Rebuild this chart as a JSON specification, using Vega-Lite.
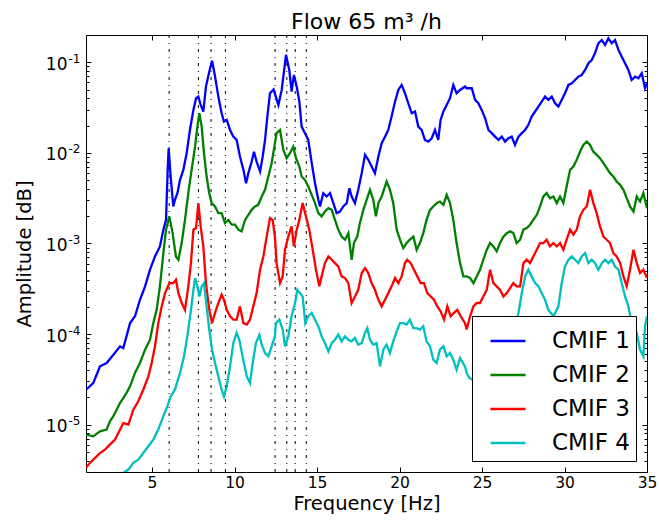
{
  "$schema": "https://vega.github.io/schema/vega-lite/v6.json",
  "width": 561,
  "height": 437,
  "autosize": {"type": "none"},
  "padding": {"left": 86, "top": 35, "right": 12, "bottom": 52},
  "background": "white",
  "title": {"text": "Flow 65 m³ /h", "fontSize": 22, "font": "DejaVu Sans", "fontWeight": "normal", "anchor": "middle", "baseline": "alphabetic", "offset": -16, "color": "black"},
  "config": {
    "view": {"stroke": "black", "strokeWidth": 1},
    "axis": {"domain": false, "grid": false, "tickColor": "black", "labelColor": "black", "titleColor": "black", "labelFont": "DejaVu Sans", "titleFont": "DejaVu Sans", "titleFontWeight": "normal", "labelOverlap": false, "labelBound": false, "labelFlush": false}
  },
  "datasets": {
    "cmif": [
{"f":1.00,"v":2.43e-5,"s":"CMIF 1"},{"f":1.44,"v":2.88e-5,"s":"CMIF 1"},{"f":1.85,"v":4.40e-5,"s":"CMIF 1"},{"f":2.25,"v":4.79e-5,"s":"CMIF 1"},{"f":2.66,"v":5.92e-5,"s":"CMIF 1"},{"f":3.06,"v":7.31e-5,"s":"CMIF 1"},{"f":3.26,"v":7.01e-5,"s":"CMIF 1"},{"f":3.67,"v":1.32e-4,"s":"CMIF 1"},{"f":3.97,"v":1.57e-4,"s":"CMIF 1"},{"f":4.27,"v":2.39e-4,"s":"CMIF 1"},{"f":4.58,"v":3.36e-4,"s":"CMIF 1"},{"f":4.88,"v":5.13e-4,"s":"CMIF 1"},{"f":5.18,"v":7.19e-4,"s":"CMIF 1"},{"f":5.48,"v":9.27e-4,"s":"CMIF 1"},{"f":5.69,"v":1.42e-3,"s":"CMIF 1"},{"f":5.85,"v":1.82e-3,"s":"CMIF 1"},{"f":5.95,"v":6.49e-3,"s":"CMIF 1"},{"f":6.01,"v":1.12e-2,"s":"CMIF 1"},{"f":6.13,"v":5.48e-3,"s":"CMIF 1"},{"f":6.29,"v":2.56e-3,"s":"CMIF 1"},{"f":6.39,"v":3.03e-3,"s":"CMIF 1"},{"f":6.54,"v":3.59e-3,"s":"CMIF 1"},{"f":6.70,"v":5.04e-3,"s":"CMIF 1"},{"f":6.90,"v":6.49e-3,"s":"CMIF 1"},{"f":7.10,"v":9.91e-3,"s":"CMIF 1"},{"f":7.30,"v":1.79e-2,"s":"CMIF 1"},{"f":7.51,"v":2.98e-2,"s":"CMIF 1"},{"f":7.67,"v":4.01e-2,"s":"CMIF 1"},{"f":7.81,"v":4.18e-2,"s":"CMIF 1"},{"f":7.95,"v":3.38e-2,"s":"CMIF 1"},{"f":8.11,"v":2.86e-2,"s":"CMIF 1"},{"f":8.27,"v":5.39e-2,"s":"CMIF 1"},{"f":8.45,"v":7.57e-2,"s":"CMIF 1"},{"f":8.64,"v":0.104,"s":"CMIF 1"},{"f":8.82,"v":6.95e-2,"s":"CMIF 1"},{"f":9.02,"v":4.18e-2,"s":"CMIF 1"},{"f":9.22,"v":2.74e-2,"s":"CMIF 1"},{"f":9.36,"v":2.22e-2,"s":"CMIF 1"},{"f":9.53,"v":2.31e-2,"s":"CMIF 1"},{"f":9.73,"v":1.79e-2,"s":"CMIF 1"},{"f":9.93,"v":1.51e-2,"s":"CMIF 1"},{"f":10.13,"v":1.39e-2,"s":"CMIF 1"},{"f":10.33,"v":9.12e-3,"s":"CMIF 1"},{"f":10.54,"v":6.49e-3,"s":"CMIF 1"},{"f":10.70,"v":4.62e-3,"s":"CMIF 1"},{"f":10.84,"v":5.97e-3,"s":"CMIF 1"},{"f":11.04,"v":8.02e-3,"s":"CMIF 1"},{"f":11.18,"v":1.03e-2,"s":"CMIF 1"},{"f":11.34,"v":8.02e-3,"s":"CMIF 1"},{"f":11.55,"v":6.22e-3,"s":"CMIF 1"},{"f":11.71,"v":9.12e-3,"s":"CMIF 1"},{"f":11.85,"v":1.39e-2,"s":"CMIF 1"},{"f":11.99,"v":2.52e-2,"s":"CMIF 1"},{"f":12.15,"v":4.55e-2,"s":"CMIF 1"},{"f":12.37,"v":5.0e-2,"s":"CMIF 1"},{"f":12.66,"v":3.38e-2,"s":"CMIF 1"},{"f":12.86,"v":4.95e-2,"s":"CMIF 1"},{"f":13.12,"v":0.121,"s":"CMIF 1"},{"f":13.32,"v":8.22e-2,"s":"CMIF 1"},{"f":13.46,"v":4.74e-2,"s":"CMIF 1"},{"f":13.60,"v":7.24e-2,"s":"CMIF 1"},{"f":13.77,"v":5.39e-2,"s":"CMIF 1"},{"f":13.93,"v":3.68e-2,"s":"CMIF 1"},{"f":14.07,"v":1.95e-2,"s":"CMIF 1"},{"f":14.27,"v":1.65e-2,"s":"CMIF 1"},{"f":14.47,"v":1.39e-2,"s":"CMIF 1"},{"f":14.68,"v":7.69e-3,"s":"CMIF 1"},{"f":14.88,"v":4.62e-3,"s":"CMIF 1"},{"f":15.08,"v":3.03e-3,"s":"CMIF 1"},{"f":15.18,"v":2.56e-3,"s":"CMIF 1"},{"f":15.38,"v":3.59e-3,"s":"CMIF 1"},{"f":15.58,"v":3.30e-3,"s":"CMIF 1"},{"f":15.79,"v":3.59e-3,"s":"CMIF 1"},{"f":15.99,"v":2.79e-3,"s":"CMIF 1"},{"f":16.19,"v":2.16e-3,"s":"CMIF 1"},{"f":16.39,"v":2.25e-3,"s":"CMIF 1"},{"f":16.59,"v":2.56e-3,"s":"CMIF 1"},{"f":16.80,"v":2.79e-3,"s":"CMIF 1"},{"f":16.96,"v":4.07e-3,"s":"CMIF 1"},{"f":17.10,"v":3.30e-3,"s":"CMIF 1"},{"f":17.30,"v":2.79e-3,"s":"CMIF 1"},{"f":17.50,"v":3.91e-3,"s":"CMIF 1"},{"f":17.71,"v":5.97e-3,"s":"CMIF 1"},{"f":17.91,"v":9.51e-3,"s":"CMIF 1"},{"f":18.11,"v":8.37e-3,"s":"CMIF 1"},{"f":18.31,"v":7.07e-3,"s":"CMIF 1"},{"f":18.51,"v":5.97e-3,"s":"CMIF 1"},{"f":18.72,"v":9.12e-3,"s":"CMIF 1"},{"f":18.92,"v":1.28e-2,"s":"CMIF 1"},{"f":19.12,"v":1.51e-2,"s":"CMIF 1"},{"f":19.32,"v":1.79e-2,"s":"CMIF 1"},{"f":19.52,"v":2.52e-2,"s":"CMIF 1"},{"f":19.73,"v":3.68e-2,"s":"CMIF 1"},{"f":19.93,"v":4.95e-2,"s":"CMIF 1"},{"f":20.13,"v":5.62e-2,"s":"CMIF 1"},{"f":20.33,"v":4.55e-2,"s":"CMIF 1"},{"f":20.53,"v":3.53e-2,"s":"CMIF 1"},{"f":20.74,"v":2.74e-2,"s":"CMIF 1"},{"f":20.94,"v":2.86e-2,"s":"CMIF 1"},{"f":21.14,"v":1.95e-2,"s":"CMIF 1"},{"f":21.34,"v":1.79e-2,"s":"CMIF 1"},{"f":21.54,"v":1.39e-2,"s":"CMIF 1"},{"f":21.75,"v":1.33e-2,"s":"CMIF 1"},{"f":21.95,"v":1.45e-2,"s":"CMIF 1"},{"f":22.15,"v":1.79e-2,"s":"CMIF 1"},{"f":22.35,"v":1.39e-2,"s":"CMIF 1"},{"f":22.49,"v":2.31e-2,"s":"CMIF 1"},{"f":22.66,"v":2.86e-2,"s":"CMIF 1"},{"f":22.86,"v":3.38e-2,"s":"CMIF 1"},{"f":23.06,"v":4.01e-2,"s":"CMIF 1"},{"f":23.26,"v":5.62e-2,"s":"CMIF 1"},{"f":23.46,"v":4.55e-2,"s":"CMIF 1"},{"f":23.67,"v":4.95e-2,"s":"CMIF 1"},{"f":23.97,"v":5.39e-2,"s":"CMIF 1"},{"f":24.07,"v":5.17e-2,"s":"CMIF 1"},{"f":24.38,"v":5.17e-2,"s":"CMIF 1"},{"f":24.58,"v":3.84e-2,"s":"CMIF 1"},{"f":24.78,"v":3.53e-2,"s":"CMIF 1"},{"f":24.98,"v":2.98e-2,"s":"CMIF 1"},{"f":25.19,"v":2.41e-2,"s":"CMIF 1"},{"f":25.39,"v":1.79e-2,"s":"CMIF 1"},{"f":25.59,"v":1.65e-2,"s":"CMIF 1"},{"f":25.79,"v":1.51e-2,"s":"CMIF 1"},{"f":26.00,"v":1.39e-2,"s":"CMIF 1"},{"f":26.20,"v":1.51e-2,"s":"CMIF 1"},{"f":26.40,"v":1.33e-2,"s":"CMIF 1"},{"f":26.60,"v":1.45e-2,"s":"CMIF 1"},{"f":26.80,"v":1.51e-2,"s":"CMIF 1"},{"f":27.00,"v":1.22e-2,"s":"CMIF 1"},{"f":27.21,"v":1.51e-2,"s":"CMIF 1"},{"f":27.41,"v":1.65e-2,"s":"CMIF 1"},{"f":27.61,"v":1.79e-2,"s":"CMIF 1"},{"f":27.81,"v":2.04e-2,"s":"CMIF 1"},{"f":28.01,"v":2.52e-2,"s":"CMIF 1"},{"f":28.22,"v":2.86e-2,"s":"CMIF 1"},{"f":28.42,"v":3.24e-2,"s":"CMIF 1"},{"f":28.62,"v":3.68e-2,"s":"CMIF 1"},{"f":28.82,"v":4.18e-2,"s":"CMIF 1"},{"f":29.02,"v":3.84e-2,"s":"CMIF 1"},{"f":29.23,"v":4.18e-2,"s":"CMIF 1"},{"f":29.43,"v":3.53e-2,"s":"CMIF 1"},{"f":29.63,"v":3.24e-2,"s":"CMIF 1"},{"f":29.83,"v":3.84e-2,"s":"CMIF 1"},{"f":30.03,"v":4.55e-2,"s":"CMIF 1"},{"f":30.24,"v":5.62e-2,"s":"CMIF 1"},{"f":30.44,"v":5.86e-2,"s":"CMIF 1"},{"f":30.64,"v":6.38e-2,"s":"CMIF 1"},{"f":30.84,"v":6.95e-2,"s":"CMIF 1"},{"f":31.04,"v":7.24e-2,"s":"CMIF 1"},{"f":31.25,"v":8.22e-2,"s":"CMIF 1"},{"f":31.45,"v":9.75e-2,"s":"CMIF 1"},{"f":31.65,"v":0.106,"s":"CMIF 1"},{"f":31.85,"v":0.126,"s":"CMIF 1"},{"f":32.05,"v":0.162,"s":"CMIF 1"},{"f":32.26,"v":0.176,"s":"CMIF 1"},{"f":32.46,"v":0.155,"s":"CMIF 1"},{"f":32.66,"v":0.184,"s":"CMIF 1"},{"f":32.86,"v":0.162,"s":"CMIF 1"},{"f":33.06,"v":0.176,"s":"CMIF 1"},{"f":33.27,"v":0.137,"s":"CMIF 1"},{"f":33.47,"v":0.115,"s":"CMIF 1"},{"f":33.67,"v":9.75e-2,"s":"CMIF 1"},{"f":33.87,"v":8.22e-2,"s":"CMIF 1"},{"f":34.07,"v":6.38e-2,"s":"CMIF 1"},{"f":34.28,"v":6.95e-2,"s":"CMIF 1"},{"f":34.48,"v":6.66e-2,"s":"CMIF 1"},{"f":34.68,"v":7.57e-2,"s":"CMIF 1"},{"f":34.88,"v":5.17e-2,"s":"CMIF 1"},{"f":35.00,"v":5.86e-2,"s":"CMIF 1"},
{"f":1.00,"v":7.76e-6,"s":"CMIF 2"},{"f":1.44,"v":7.43e-6,"s":"CMIF 2"},{"f":1.85,"v":8.44e-6,"s":"CMIF 2"},{"f":2.25,"v":8.81e-6,"s":"CMIF 2"},{"f":2.45,"v":1.09e-5,"s":"CMIF 2"},{"f":2.66,"v":1.24e-5,"s":"CMIF 2"},{"f":3.06,"v":1.73e-5,"s":"CMIF 2"},{"f":3.46,"v":2.24e-5,"s":"CMIF 2"},{"f":3.67,"v":2.65e-5,"s":"CMIF 2"},{"f":3.97,"v":3.72e-5,"s":"CMIF 2"},{"f":4.27,"v":4.79e-5,"s":"CMIF 2"},{"f":4.58,"v":6.72e-5,"s":"CMIF 2"},{"f":4.88,"v":8.65e-5,"s":"CMIF 2"},{"f":5.08,"v":1.32e-4,"s":"CMIF 2"},{"f":5.28,"v":1.85e-4,"s":"CMIF 2"},{"f":5.48,"v":3.36e-4,"s":"CMIF 2"},{"f":5.69,"v":7.82e-4,"s":"CMIF 2"},{"f":5.85,"v":1.42e-3,"s":"CMIF 2"},{"f":6.05,"v":1.99e-3,"s":"CMIF 2"},{"f":6.25,"v":1.30e-3,"s":"CMIF 2"},{"f":6.45,"v":7.19e-4,"s":"CMIF 2"},{"f":6.60,"v":6.61e-4,"s":"CMIF 2"},{"f":6.80,"v":1.01e-3,"s":"CMIF 2"},{"f":7.00,"v":1.82e-3,"s":"CMIF 2"},{"f":7.20,"v":3.59e-3,"s":"CMIF 2"},{"f":7.40,"v":6.49e-3,"s":"CMIF 2"},{"f":7.61,"v":1.17e-2,"s":"CMIF 2"},{"f":7.75,"v":1.95e-2,"s":"CMIF 2"},{"f":7.87,"v":2.74e-2,"s":"CMIF 2"},{"f":8.01,"v":1.95e-2,"s":"CMIF 2"},{"f":8.15,"v":9.91e-3,"s":"CMIF 2"},{"f":8.31,"v":5.48e-3,"s":"CMIF 2"},{"f":8.47,"v":3.59e-3,"s":"CMIF 2"},{"f":8.62,"v":2.79e-3,"s":"CMIF 2"},{"f":8.82,"v":2.56e-3,"s":"CMIF 2"},{"f":9.02,"v":2.16e-3,"s":"CMIF 2"},{"f":9.22,"v":2.16e-3,"s":"CMIF 2"},{"f":9.42,"v":1.68e-3,"s":"CMIF 2"},{"f":9.63,"v":1.82e-3,"s":"CMIF 2"},{"f":9.83,"v":1.61e-3,"s":"CMIF 2"},{"f":10.03,"v":1.61e-3,"s":"CMIF 2"},{"f":10.23,"v":1.42e-3,"s":"CMIF 2"},{"f":10.43,"v":1.36e-3,"s":"CMIF 2"},{"f":10.64,"v":1.82e-3,"s":"CMIF 2"},{"f":10.84,"v":2.07e-3,"s":"CMIF 2"},{"f":11.04,"v":2.35e-3,"s":"CMIF 2"},{"f":11.24,"v":2.56e-3,"s":"CMIF 2"},{"f":11.44,"v":2.67e-3,"s":"CMIF 2"},{"f":11.65,"v":3.30e-3,"s":"CMIF 2"},{"f":11.85,"v":3.91e-3,"s":"CMIF 2"},{"f":12.05,"v":5.48e-3,"s":"CMIF 2"},{"f":12.25,"v":7.69e-3,"s":"CMIF 2"},{"f":12.45,"v":1.28e-2,"s":"CMIF 2"},{"f":12.55,"v":1.65e-2,"s":"CMIF 2"},{"f":12.76,"v":1.79e-2,"s":"CMIF 2"},{"f":12.96,"v":1.08e-2,"s":"CMIF 2"},{"f":13.16,"v":8.73e-3,"s":"CMIF 2"},{"f":13.36,"v":9.91e-3,"s":"CMIF 2"},{"f":13.56,"v":1.17e-2,"s":"CMIF 2"},{"f":13.73,"v":8.73e-3,"s":"CMIF 2"},{"f":13.93,"v":7.07e-3,"s":"CMIF 2"},{"f":14.07,"v":5.48e-3,"s":"CMIF 2"},{"f":14.27,"v":5.04e-3,"s":"CMIF 2"},{"f":14.47,"v":4.25e-3,"s":"CMIF 2"},{"f":14.68,"v":3.44e-3,"s":"CMIF 2"},{"f":14.88,"v":2.79e-3,"s":"CMIF 2"},{"f":15.08,"v":2.16e-3,"s":"CMIF 2"},{"f":15.28,"v":1.99e-3,"s":"CMIF 2"},{"f":15.48,"v":2.25e-3,"s":"CMIF 2"},{"f":15.69,"v":2.45e-3,"s":"CMIF 2"},{"f":15.89,"v":2.35e-3,"s":"CMIF 2"},{"f":16.09,"v":1.82e-3,"s":"CMIF 2"},{"f":16.29,"v":1.42e-3,"s":"CMIF 2"},{"f":16.49,"v":1.19e-3,"s":"CMIF 2"},{"f":16.70,"v":1.10e-3,"s":"CMIF 2"},{"f":16.90,"v":1.30e-3,"s":"CMIF 2"},{"f":17.10,"v":6.61e-4,"s":"CMIF 2"},{"f":17.24,"v":1.01e-3,"s":"CMIF 2"},{"f":17.44,"v":1.19e-3,"s":"CMIF 2"},{"f":17.60,"v":1.68e-3,"s":"CMIF 2"},{"f":17.81,"v":2.35e-3,"s":"CMIF 2"},{"f":18.01,"v":3.03e-3,"s":"CMIF 2"},{"f":18.21,"v":3.91e-3,"s":"CMIF 2"},{"f":18.41,"v":3.03e-3,"s":"CMIF 2"},{"f":18.57,"v":1.99e-3,"s":"CMIF 2"},{"f":18.72,"v":2.79e-3,"s":"CMIF 2"},{"f":18.92,"v":3.30e-3,"s":"CMIF 2"},{"f":19.12,"v":4.25e-3,"s":"CMIF 2"},{"f":19.22,"v":4.83e-3,"s":"CMIF 2"},{"f":19.42,"v":3.91e-3,"s":"CMIF 2"},{"f":19.62,"v":2.79e-3,"s":"CMIF 2"},{"f":19.83,"v":1.42e-3,"s":"CMIF 2"},{"f":20.03,"v":1.10e-3,"s":"CMIF 2"},{"f":20.23,"v":8.89e-4,"s":"CMIF 2"},{"f":20.43,"v":1.01e-3,"s":"CMIF 2"},{"f":20.63,"v":1.10e-3,"s":"CMIF 2"},{"f":20.84,"v":1.19e-3,"s":"CMIF 2"},{"f":21.04,"v":8.51e-4,"s":"CMIF 2"},{"f":21.24,"v":1.01e-3,"s":"CMIF 2"},{"f":21.44,"v":1.30e-3,"s":"CMIF 2"},{"f":21.64,"v":1.82e-3,"s":"CMIF 2"},{"f":21.85,"v":2.35e-3,"s":"CMIF 2"},{"f":22.05,"v":2.56e-3,"s":"CMIF 2"},{"f":22.25,"v":2.79e-3,"s":"CMIF 2"},{"f":22.45,"v":2.90e-3,"s":"CMIF 2"},{"f":22.66,"v":2.67e-3,"s":"CMIF 2"},{"f":22.86,"v":3.44e-3,"s":"CMIF 2"},{"f":23.06,"v":2.79e-3,"s":"CMIF 2"},{"f":23.26,"v":1.82e-3,"s":"CMIF 2"},{"f":23.46,"v":1.01e-3,"s":"CMIF 2"},{"f":23.67,"v":6.07e-4,"s":"CMIF 2"},{"f":23.87,"v":4.33e-4,"s":"CMIF 2"},{"f":24.07,"v":4.33e-4,"s":"CMIF 2"},{"f":24.28,"v":4.15e-4,"s":"CMIF 2"},{"f":24.48,"v":3.65e-4,"s":"CMIF 2"},{"f":24.68,"v":4.33e-4,"s":"CMIF 2"},{"f":24.88,"v":5.13e-4,"s":"CMIF 2"},{"f":25.08,"v":6.61e-4,"s":"CMIF 2"},{"f":25.29,"v":8.51e-4,"s":"CMIF 2"},{"f":25.49,"v":1.01e-3,"s":"CMIF 2"},{"f":25.69,"v":9.27e-4,"s":"CMIF 2"},{"f":25.89,"v":8.17e-4,"s":"CMIF 2"},{"f":26.09,"v":1.01e-3,"s":"CMIF 2"},{"f":26.30,"v":1.19e-3,"s":"CMIF 2"},{"f":26.50,"v":1.30e-3,"s":"CMIF 2"},{"f":26.70,"v":1.36e-3,"s":"CMIF 2"},{"f":26.90,"v":1.30e-3,"s":"CMIF 2"},{"f":27.10,"v":1.01e-3,"s":"CMIF 2"},{"f":27.31,"v":1.10e-3,"s":"CMIF 2"},{"f":27.51,"v":1.42e-3,"s":"CMIF 2"},{"f":27.71,"v":1.48e-3,"s":"CMIF 2"},{"f":27.91,"v":1.61e-3,"s":"CMIF 2"},{"f":28.11,"v":1.82e-3,"s":"CMIF 2"},{"f":28.32,"v":2.07e-3,"s":"CMIF 2"},{"f":28.52,"v":2.56e-3,"s":"CMIF 2"},{"f":28.72,"v":3.30e-3,"s":"CMIF 2"},{"f":28.92,"v":3.59e-3,"s":"CMIF 2"},{"f":29.12,"v":3.16e-3,"s":"CMIF 2"},{"f":29.33,"v":3.30e-3,"s":"CMIF 2"},{"f":29.53,"v":2.79e-3,"s":"CMIF 2"},{"f":29.73,"v":3.30e-3,"s":"CMIF 2"},{"f":29.93,"v":2.79e-3,"s":"CMIF 2"},{"f":30.13,"v":4.25e-3,"s":"CMIF 2"},{"f":30.34,"v":6.49e-3,"s":"CMIF 2"},{"f":30.54,"v":7.07e-3,"s":"CMIF 2"},{"f":30.74,"v":8.37e-3,"s":"CMIF 2"},{"f":30.94,"v":1.03e-2,"s":"CMIF 2"},{"f":31.14,"v":1.22e-2,"s":"CMIF 2"},{"f":31.35,"v":1.33e-2,"s":"CMIF 2"},{"f":31.55,"v":1.22e-2,"s":"CMIF 2"},{"f":31.75,"v":1.03e-2,"s":"CMIF 2"},{"f":31.95,"v":9.51e-3,"s":"CMIF 2"},{"f":32.15,"v":8.73e-3,"s":"CMIF 2"},{"f":32.36,"v":7.69e-3,"s":"CMIF 2"},{"f":32.56,"v":6.78e-3,"s":"CMIF 2"},{"f":32.76,"v":5.97e-3,"s":"CMIF 2"},{"f":32.96,"v":5.48e-3,"s":"CMIF 2"},{"f":33.16,"v":4.83e-3,"s":"CMIF 2"},{"f":33.37,"v":4.44e-3,"s":"CMIF 2"},{"f":33.57,"v":3.91e-3,"s":"CMIF 2"},{"f":33.77,"v":3.16e-3,"s":"CMIF 2"},{"f":33.97,"v":2.56e-3,"s":"CMIF 2"},{"f":34.18,"v":2.25e-3,"s":"CMIF 2"},{"f":34.38,"v":3.30e-3,"s":"CMIF 2"},{"f":34.58,"v":2.90e-3,"s":"CMIF 2"},{"f":34.78,"v":3.59e-3,"s":"CMIF 2"},{"f":35.00,"v":2.45e-3,"s":"CMIF 2"},
{"f":1.00,"v":3.33e-6,"s":"CMIF 3"},{"f":1.24,"v":3.78e-6,"s":"CMIF 3"},{"f":1.55,"v":4.29e-6,"s":"CMIF 3"},{"f":1.85,"v":4.86e-6,"s":"CMIF 3"},{"f":2.15,"v":5.30e-6,"s":"CMIF 3"},{"f":2.45,"v":6.01e-6,"s":"CMIF 3"},{"f":2.76,"v":6.84e-6,"s":"CMIF 3"},{"f":2.96,"v":8.09e-6,"s":"CMIF 3"},{"f":3.26,"v":1.04e-5,"s":"CMIF 3"},{"f":3.57,"v":1.00e-5,"s":"CMIF 3"},{"f":3.87,"v":1.46e-5,"s":"CMIF 3"},{"f":4.17,"v":1.81e-5,"s":"CMIF 3"},{"f":4.47,"v":2.43e-5,"s":"CMIF 3"},{"f":4.78,"v":3.41e-5,"s":"CMIF 3"},{"f":4.98,"v":4.79e-5,"s":"CMIF 3"},{"f":5.18,"v":7.31e-5,"s":"CMIF 3"},{"f":5.38,"v":1.32e-4,"s":"CMIF 3"},{"f":5.59,"v":2.02e-4,"s":"CMIF 3"},{"f":5.79,"v":2.83e-4,"s":"CMIF 3"},{"f":6.05,"v":3.65e-4,"s":"CMIF 3"},{"f":6.29,"v":3.65e-4,"s":"CMIF 3"},{"f":6.45,"v":3.97e-4,"s":"CMIF 3"},{"f":6.60,"v":2.83e-4,"s":"CMIF 3"},{"f":6.80,"v":2.20e-4,"s":"CMIF 3"},{"f":7.00,"v":1.85e-4,"s":"CMIF 3"},{"f":7.20,"v":3.36e-4,"s":"CMIF 3"},{"f":7.36,"v":6.07e-4,"s":"CMIF 3"},{"f":7.51,"v":1.42e-3,"s":"CMIF 3"},{"f":7.67,"v":1.48e-3,"s":"CMIF 3"},{"f":7.81,"v":2.79e-3,"s":"CMIF 3"},{"f":7.95,"v":1.54e-3,"s":"CMIF 3"},{"f":8.11,"v":9.27e-4,"s":"CMIF 3"},{"f":8.27,"v":3.65e-4,"s":"CMIF 3"},{"f":8.47,"v":1.85e-4,"s":"CMIF 3"},{"f":8.64,"v":1.32e-4,"s":"CMIF 3"},{"f":8.82,"v":1.71e-4,"s":"CMIF 3"},{"f":9.02,"v":2.20e-4,"s":"CMIF 3"},{"f":9.22,"v":2.72e-4,"s":"CMIF 3"},{"f":9.36,"v":2.39e-4,"s":"CMIF 3"},{"f":9.53,"v":1.85e-4,"s":"CMIF 3"},{"f":9.73,"v":1.57e-4,"s":"CMIF 3"},{"f":9.93,"v":1.44e-4,"s":"CMIF 3"},{"f":10.13,"v":1.44e-4,"s":"CMIF 3"},{"f":10.33,"v":2.02e-4,"s":"CMIF 3"},{"f":10.54,"v":1.32e-4,"s":"CMIF 3"},{"f":10.74,"v":1.27e-4,"s":"CMIF 3"},{"f":10.94,"v":1.44e-4,"s":"CMIF 3"},{"f":11.14,"v":2.02e-4,"s":"CMIF 3"},{"f":11.34,"v":2.83e-4,"s":"CMIF 3"},{"f":11.55,"v":5.13e-4,"s":"CMIF 3"},{"f":11.75,"v":7.19e-4,"s":"CMIF 3"},{"f":11.95,"v":1.19e-3,"s":"CMIF 3"},{"f":12.15,"v":1.90e-3,"s":"CMIF 3"},{"f":12.31,"v":1.82e-3,"s":"CMIF 3"},{"f":12.45,"v":1.19e-3,"s":"CMIF 3"},{"f":12.55,"v":6.07e-4,"s":"CMIF 3"},{"f":12.76,"v":3.65e-4,"s":"CMIF 3"},{"f":12.92,"v":4.33e-4,"s":"CMIF 3"},{"f":13.06,"v":8.51e-4,"s":"CMIF 3"},{"f":13.26,"v":1.19e-3,"s":"CMIF 3"},{"f":13.46,"v":1.54e-3,"s":"CMIF 3"},{"f":13.60,"v":9.27e-4,"s":"CMIF 3"},{"f":13.77,"v":1.42e-3,"s":"CMIF 3"},{"f":13.93,"v":1.82e-3,"s":"CMIF 3"},{"f":14.13,"v":2.79e-3,"s":"CMIF 3"},{"f":14.33,"v":1.99e-3,"s":"CMIF 3"},{"f":14.53,"v":1.42e-3,"s":"CMIF 3"},{"f":14.74,"v":8.51e-4,"s":"CMIF 3"},{"f":14.94,"v":5.13e-4,"s":"CMIF 3"},{"f":15.14,"v":3.36e-4,"s":"CMIF 3"},{"f":15.28,"v":4.33e-4,"s":"CMIF 3"},{"f":15.48,"v":6.07e-4,"s":"CMIF 3"},{"f":15.69,"v":7.19e-4,"s":"CMIF 3"},{"f":15.89,"v":6.61e-4,"s":"CMIF 3"},{"f":16.09,"v":6.07e-4,"s":"CMIF 3"},{"f":16.29,"v":5.57e-4,"s":"CMIF 3"},{"f":16.49,"v":4.33e-4,"s":"CMIF 3"},{"f":16.70,"v":4.15e-4,"s":"CMIF 3"},{"f":16.90,"v":3.65e-4,"s":"CMIF 3"},{"f":17.10,"v":2.20e-4,"s":"CMIF 3"},{"f":17.30,"v":2.60e-4,"s":"CMIF 3"},{"f":17.50,"v":3.08e-4,"s":"CMIF 3"},{"f":17.71,"v":4.71e-4,"s":"CMIF 3"},{"f":17.91,"v":5.35e-4,"s":"CMIF 3"},{"f":18.11,"v":4.71e-4,"s":"CMIF 3"},{"f":18.31,"v":3.65e-4,"s":"CMIF 3"},{"f":18.51,"v":3.08e-4,"s":"CMIF 3"},{"f":18.72,"v":2.39e-4,"s":"CMIF 3"},{"f":18.92,"v":2.02e-4,"s":"CMIF 3"},{"f":19.12,"v":2.39e-4,"s":"CMIF 3"},{"f":19.32,"v":2.83e-4,"s":"CMIF 3"},{"f":19.52,"v":3.36e-4,"s":"CMIF 3"},{"f":19.73,"v":4.15e-4,"s":"CMIF 3"},{"f":19.93,"v":3.65e-4,"s":"CMIF 3"},{"f":20.13,"v":4.33e-4,"s":"CMIF 3"},{"f":20.33,"v":6.07e-4,"s":"CMIF 3"},{"f":20.47,"v":6.61e-4,"s":"CMIF 3"},{"f":20.68,"v":6.07e-4,"s":"CMIF 3"},{"f":20.88,"v":5.13e-4,"s":"CMIF 3"},{"f":21.08,"v":4.33e-4,"s":"CMIF 3"},{"f":21.28,"v":3.65e-4,"s":"CMIF 3"},{"f":21.48,"v":3.65e-4,"s":"CMIF 3"},{"f":21.69,"v":2.83e-4,"s":"CMIF 3"},{"f":21.89,"v":2.60e-4,"s":"CMIF 3"},{"f":22.09,"v":2.39e-4,"s":"CMIF 3"},{"f":22.29,"v":2.02e-4,"s":"CMIF 3"},{"f":22.49,"v":1.78e-4,"s":"CMIF 3"},{"f":22.70,"v":1.44e-4,"s":"CMIF 3"},{"f":22.90,"v":2.02e-4,"s":"CMIF 3"},{"f":23.10,"v":1.57e-4,"s":"CMIF 3"},{"f":23.30,"v":1.71e-4,"s":"CMIF 3"},{"f":23.50,"v":1.85e-4,"s":"CMIF 3"},{"f":23.71,"v":1.57e-4,"s":"CMIF 3"},{"f":23.97,"v":1.32e-4,"s":"CMIF 3"},{"f":24.07,"v":1.12e-4,"s":"CMIF 3"},{"f":24.28,"v":1.57e-4,"s":"CMIF 3"},{"f":24.48,"v":2.02e-4,"s":"CMIF 3"},{"f":24.68,"v":2.20e-4,"s":"CMIF 3"},{"f":24.88,"v":2.20e-4,"s":"CMIF 3"},{"f":25.08,"v":2.60e-4,"s":"CMIF 3"},{"f":25.29,"v":3.08e-4,"s":"CMIF 3"},{"f":25.49,"v":5.13e-4,"s":"CMIF 3"},{"f":25.69,"v":3.65e-4,"s":"CMIF 3"},{"f":25.89,"v":3.36e-4,"s":"CMIF 3"},{"f":26.09,"v":3.08e-4,"s":"CMIF 3"},{"f":26.30,"v":2.60e-4,"s":"CMIF 3"},{"f":26.50,"v":2.83e-4,"s":"CMIF 3"},{"f":26.70,"v":3.22e-4,"s":"CMIF 3"},{"f":26.90,"v":3.65e-4,"s":"CMIF 3"},{"f":27.10,"v":3.36e-4,"s":"CMIF 3"},{"f":27.31,"v":3.36e-4,"s":"CMIF 3"},{"f":27.51,"v":6.07e-4,"s":"CMIF 3"},{"f":27.71,"v":6.61e-4,"s":"CMIF 3"},{"f":27.91,"v":6.07e-4,"s":"CMIF 3"},{"f":28.11,"v":7.19e-4,"s":"CMIF 3"},{"f":28.32,"v":8.51e-4,"s":"CMIF 3"},{"f":28.52,"v":1.01e-3,"s":"CMIF 3"},{"f":28.72,"v":1.01e-3,"s":"CMIF 3"},{"f":28.92,"v":1.10e-3,"s":"CMIF 3"},{"f":29.12,"v":9.27e-4,"s":"CMIF 3"},{"f":29.33,"v":1.01e-3,"s":"CMIF 3"},{"f":29.53,"v":9.27e-4,"s":"CMIF 3"},{"f":29.73,"v":1.01e-3,"s":"CMIF 3"},{"f":29.93,"v":8.51e-4,"s":"CMIF 3"},{"f":30.13,"v":1.10e-3,"s":"CMIF 3"},{"f":30.34,"v":1.42e-3,"s":"CMIF 3"},{"f":30.54,"v":1.25e-3,"s":"CMIF 3"},{"f":30.74,"v":1.42e-3,"s":"CMIF 3"},{"f":30.94,"v":1.99e-3,"s":"CMIF 3"},{"f":31.14,"v":2.35e-3,"s":"CMIF 3"},{"f":31.35,"v":2.56e-3,"s":"CMIF 3"},{"f":31.55,"v":3.91e-3,"s":"CMIF 3"},{"f":31.75,"v":2.79e-3,"s":"CMIF 3"},{"f":31.95,"v":2.16e-3,"s":"CMIF 3"},{"f":32.15,"v":1.54e-3,"s":"CMIF 3"},{"f":32.36,"v":1.19e-3,"s":"CMIF 3"},{"f":32.56,"v":1.10e-3,"s":"CMIF 3"},{"f":32.76,"v":1.01e-3,"s":"CMIF 3"},{"f":32.96,"v":7.82e-4,"s":"CMIF 3"},{"f":33.16,"v":7.19e-4,"s":"CMIF 3"},{"f":33.37,"v":6.07e-4,"s":"CMIF 3"},{"f":33.57,"v":4.33e-4,"s":"CMIF 3"},{"f":33.77,"v":3.36e-4,"s":"CMIF 3"},{"f":33.97,"v":5.13e-4,"s":"CMIF 3"},{"f":34.18,"v":8.51e-4,"s":"CMIF 3"},{"f":34.38,"v":6.07e-4,"s":"CMIF 3"},{"f":34.58,"v":4.71e-4,"s":"CMIF 3"},{"f":34.78,"v":5.13e-4,"s":"CMIF 3"},{"f":35.00,"v":4.15e-4,"s":"CMIF 3"},
{"f":3.06,"v":2.28e-6,"s":"CMIF 4"},{"f":3.26,"v":2.93e-6,"s":"CMIF 4"},{"f":3.57,"v":3.19e-6,"s":"CMIF 4"},{"f":3.87,"v":3.78e-6,"s":"CMIF 4"},{"f":4.17,"v":4.11e-6,"s":"CMIF 4"},{"f":4.47,"v":4.86e-6,"s":"CMIF 4"},{"f":4.78,"v":5.77e-6,"s":"CMIF 4"},{"f":5.08,"v":6.84e-6,"s":"CMIF 4"},{"f":5.38,"v":8.81e-6,"s":"CMIF 4"},{"f":5.69,"v":1.24e-5,"s":"CMIF 4"},{"f":5.93,"v":1.59e-5,"s":"CMIF 4"},{"f":6.13,"v":2.05e-5,"s":"CMIF 4"},{"f":6.39,"v":2.43e-5,"s":"CMIF 4"},{"f":6.70,"v":3.72e-5,"s":"CMIF 4"},{"f":6.94,"v":5.67e-5,"s":"CMIF 4"},{"f":7.14,"v":9.42e-5,"s":"CMIF 4"},{"f":7.34,"v":1.71e-4,"s":"CMIF 4"},{"f":7.51,"v":3.08e-4,"s":"CMIF 4"},{"f":7.61,"v":4.15e-4,"s":"CMIF 4"},{"f":7.75,"v":3.36e-4,"s":"CMIF 4"},{"f":7.87,"v":2.60e-4,"s":"CMIF 4"},{"f":8.01,"v":3.36e-4,"s":"CMIF 4"},{"f":8.15,"v":3.65e-4,"s":"CMIF 4"},{"f":8.31,"v":2.02e-4,"s":"CMIF 4"},{"f":8.47,"v":1.12e-4,"s":"CMIF 4"},{"f":8.64,"v":6.72e-5,"s":"CMIF 4"},{"f":8.82,"v":4.79e-5,"s":"CMIF 4"},{"f":9.02,"v":3.41e-5,"s":"CMIF 4"},{"f":9.22,"v":2.43e-5,"s":"CMIF 4"},{"f":9.36,"v":2.05e-5,"s":"CMIF 4"},{"f":9.53,"v":2.65e-5,"s":"CMIF 4"},{"f":9.73,"v":4.40e-5,"s":"CMIF 4"},{"f":9.93,"v":7.96e-5,"s":"CMIF 4"},{"f":10.13,"v":1.03e-4,"s":"CMIF 4"},{"f":10.29,"v":8.65e-5,"s":"CMIF 4"},{"f":10.49,"v":5.67e-5,"s":"CMIF 4"},{"f":10.74,"v":3.41e-5,"s":"CMIF 4"},{"f":10.94,"v":2.88e-5,"s":"CMIF 4"},{"f":11.10,"v":4.79e-5,"s":"CMIF 4"},{"f":11.30,"v":7.96e-5,"s":"CMIF 4"},{"f":11.51,"v":9.84e-5,"s":"CMIF 4"},{"f":11.65,"v":7.63e-5,"s":"CMIF 4"},{"f":11.85,"v":6.17e-5,"s":"CMIF 4"},{"f":12.05,"v":5.67e-5,"s":"CMIF 4"},{"f":12.25,"v":7.31e-5,"s":"CMIF 4"},{"f":12.45,"v":9.42e-5,"s":"CMIF 4"},{"f":12.51,"v":1.32e-4,"s":"CMIF 4"},{"f":12.72,"v":1.44e-4,"s":"CMIF 4"},{"f":12.92,"v":1.12e-4,"s":"CMIF 4"},{"f":13.06,"v":7.31e-5,"s":"CMIF 4"},{"f":13.26,"v":9.42e-5,"s":"CMIF 4"},{"f":13.46,"v":1.57e-4,"s":"CMIF 4"},{"f":13.67,"v":2.20e-4,"s":"CMIF 4"},{"f":13.81,"v":3.08e-4,"s":"CMIF 4"},{"f":13.97,"v":2.83e-4,"s":"CMIF 4"},{"f":14.13,"v":2.60e-4,"s":"CMIF 4"},{"f":14.29,"v":1.32e-4,"s":"CMIF 4"},{"f":14.47,"v":1.57e-4,"s":"CMIF 4"},{"f":14.68,"v":1.71e-4,"s":"CMIF 4"},{"f":14.88,"v":1.44e-4,"s":"CMIF 4"},{"f":15.08,"v":1.22e-4,"s":"CMIF 4"},{"f":15.28,"v":9.42e-5,"s":"CMIF 4"},{"f":15.48,"v":7.96e-5,"s":"CMIF 4"},{"f":15.69,"v":6.44e-5,"s":"CMIF 4"},{"f":15.89,"v":7.96e-5,"s":"CMIF 4"},{"f":16.09,"v":8.65e-5,"s":"CMIF 4"},{"f":16.29,"v":9.84e-5,"s":"CMIF 4"},{"f":16.49,"v":8.30e-5,"s":"CMIF 4"},{"f":16.70,"v":9.42e-5,"s":"CMIF 4"},{"f":16.90,"v":8.65e-5,"s":"CMIF 4"},{"f":17.10,"v":8.30e-5,"s":"CMIF 4"},{"f":17.30,"v":9.03e-5,"s":"CMIF 4"},{"f":17.50,"v":7.63e-5,"s":"CMIF 4"},{"f":17.71,"v":7.96e-5,"s":"CMIF 4"},{"f":17.91,"v":1.03e-4,"s":"CMIF 4"},{"f":18.05,"v":1.16e-4,"s":"CMIF 4"},{"f":18.21,"v":8.65e-5,"s":"CMIF 4"},{"f":18.41,"v":7.63e-5,"s":"CMIF 4"},{"f":18.61,"v":7.96e-5,"s":"CMIF 4"},{"f":18.82,"v":4.40e-5,"s":"CMIF 4"},{"f":19.02,"v":6.72e-5,"s":"CMIF 4"},{"f":19.22,"v":7.63e-5,"s":"CMIF 4"},{"f":19.42,"v":6.17e-5,"s":"CMIF 4"},{"f":19.62,"v":8.30e-5,"s":"CMIF 4"},{"f":19.83,"v":1.07e-4,"s":"CMIF 4"},{"f":20.03,"v":1.32e-4,"s":"CMIF 4"},{"f":20.23,"v":1.32e-4,"s":"CMIF 4"},{"f":20.43,"v":1.27e-4,"s":"CMIF 4"},{"f":20.63,"v":1.44e-4,"s":"CMIF 4"},{"f":20.84,"v":1.16e-4,"s":"CMIF 4"},{"f":21.04,"v":1.16e-4,"s":"CMIF 4"},{"f":21.24,"v":1.12e-4,"s":"CMIF 4"},{"f":21.44,"v":1.22e-4,"s":"CMIF 4"},{"f":21.64,"v":8.30e-5,"s":"CMIF 4"},{"f":21.85,"v":7.31e-5,"s":"CMIF 4"},{"f":22.05,"v":5.21e-5,"s":"CMIF 4"},{"f":22.25,"v":4.79e-5,"s":"CMIF 4"},{"f":22.45,"v":6.72e-5,"s":"CMIF 4"},{"f":22.66,"v":7.31e-5,"s":"CMIF 4"},{"f":22.86,"v":5.67e-5,"s":"CMIF 4"},{"f":23.06,"v":6.17e-5,"s":"CMIF 4"},{"f":23.26,"v":5.21e-5,"s":"CMIF 4"},{"f":23.46,"v":4.04e-5,"s":"CMIF 4"},{"f":23.67,"v":5.43e-5,"s":"CMIF 4"},{"f":23.97,"v":4.40e-5,"s":"CMIF 4"},{"f":24.07,"v":3.72e-5,"s":"CMIF 4"},{"f":24.24,"v":3.27e-5,"s":"CMIF 4"},{"f":24.88,"v":2.88e-5,"s":"CMIF 4"},{"f":25.69,"v":3.41e-5,"s":"CMIF 4"},{"f":26.50,"v":5.21e-5,"s":"CMIF 4"},{"f":27.00,"v":1.12e-4,"s":"CMIF 4"},{"f":27.21,"v":1.71e-4,"s":"CMIF 4"},{"f":27.41,"v":2.83e-4,"s":"CMIF 4"},{"f":27.61,"v":4.33e-4,"s":"CMIF 4"},{"f":27.81,"v":5.13e-4,"s":"CMIF 4"},{"f":28.01,"v":4.33e-4,"s":"CMIF 4"},{"f":28.22,"v":3.65e-4,"s":"CMIF 4"},{"f":28.42,"v":3.36e-4,"s":"CMIF 4"},{"f":28.62,"v":2.83e-4,"s":"CMIF 4"},{"f":28.82,"v":2.39e-4,"s":"CMIF 4"},{"f":29.02,"v":1.85e-4,"s":"CMIF 4"},{"f":29.33,"v":1.57e-4,"s":"CMIF 4"},{"f":29.63,"v":2.02e-4,"s":"CMIF 4"},{"f":29.83,"v":3.65e-4,"s":"CMIF 4"},{"f":30.03,"v":5.57e-4,"s":"CMIF 4"},{"f":30.24,"v":6.61e-4,"s":"CMIF 4"},{"f":30.44,"v":7.19e-4,"s":"CMIF 4"},{"f":30.64,"v":6.61e-4,"s":"CMIF 4"},{"f":30.84,"v":6.07e-4,"s":"CMIF 4"},{"f":31.04,"v":7.19e-4,"s":"CMIF 4"},{"f":31.25,"v":7.82e-4,"s":"CMIF 4"},{"f":31.45,"v":6.07e-4,"s":"CMIF 4"},{"f":31.65,"v":6.61e-4,"s":"CMIF 4"},{"f":31.85,"v":6.07e-4,"s":"CMIF 4"},{"f":32.05,"v":5.13e-4,"s":"CMIF 4"},{"f":32.26,"v":6.07e-4,"s":"CMIF 4"},{"f":32.46,"v":6.61e-4,"s":"CMIF 4"},{"f":32.66,"v":6.07e-4,"s":"CMIF 4"},{"f":32.86,"v":6.61e-4,"s":"CMIF 4"},{"f":33.06,"v":5.57e-4,"s":"CMIF 4"},{"f":33.27,"v":5.13e-4,"s":"CMIF 4"},{"f":33.47,"v":3.65e-4,"s":"CMIF 4"},{"f":33.67,"v":2.60e-4,"s":"CMIF 4"},{"f":33.87,"v":2.02e-4,"s":"CMIF 4"},{"f":34.07,"v":1.32e-4,"s":"CMIF 4"},{"f":34.38,"v":1.03e-4,"s":"CMIF 4"},{"f":34.58,"v":6.72e-5,"s":"CMIF 4"},{"f":34.78,"v":5.67e-5,"s":"CMIF 4"},{"f":34.88,"v":1.22e-4,"s":"CMIF 4"},{"f":35.00,"v":1.57e-4,"s":"CMIF 4"}
    ],
    "vlines": [{"f":6.04},{"f":7.81},{"f":8.58},{"f":9.45},{"f":12.46},{"f":13.17},{"f":13.68},{"f":14.35}]
  },
  "resolve": {"axis": {"x": "independent", "y": "independent"}},
  "layer": [
    {
      "data": {"name": "vlines"},
      "mark": {"type": "rule", "color": "black", "strokeWidth": 1, "strokeDash": [3, 5, 1, 5]},
      "encoding": {
        "x": {"field": "f", "type": "quantitative", "scale": {"domain": [1, 35], "nice": false, "zero": false},
              "axis": {"orient": "top", "values": [5, 10, 15, 20, 25, 30, 35], "labels": false, "title": null, "tickSize": -5}}
      }
    },
    {
      "data": {"name": "cmif"},
      "mark": {"type": "line", "strokeWidth": 2.3, "clip": true},
      "encoding": {
        "x": {"field": "f", "type": "quantitative", "scale": {"domain": [1, 35], "nice": false, "zero": false},
              "axis": {"orient": "bottom", "values": [5, 10, 15, 20, 25, 30, 35], "tickSize": -5, "labelPadding": 8, "labelFontSize": 15.5, "title": "Frequency [Hz]", "titleFontSize": 19.5, "titleBaseline": "alphabetic", "titleY": 37.5}},
        "y": {"field": "v", "type": "quantitative", "scale": {"type": "log", "domain": [3e-6, 0.2], "nice": false},
              "axis": {"orient": "left",
                       "values": [0.000004,0.000005,0.000006,0.000007,0.000008,0.000009,0.00001,0.00002,0.00003,0.00004,0.00005,0.00006,0.00007,0.00008,0.00009,0.0001,0.0002,0.0003,0.0004,0.0005,0.0006,0.0007,0.0008,0.0009,0.001,0.002,0.003,0.004,0.005,0.006,0.007,0.008,0.009,0.01,0.02,0.03,0.04,0.05,0.06,0.07,0.08,0.09,0.1],
                       "labelExpr": "datum.value == 0.1 || datum.value == 0.01 || datum.value == 0.001 || datum.value == 0.0001 || datum.value == 0.00001 ? '10' : ''",
                       "tickSize": {"condition": {"test": "datum.value == 0.1 || datum.value == 0.01 || datum.value == 0.001 || datum.value == 0.0001 || datum.value == 0.00001", "value": -5}, "value": -3},
                       "labelPadding": 24, "labelFontSize": 17, "labelOffset": 2,
                       "title": "Amplitude [dB]", "titleFontSize": 19.5, "titleBaseline": "alphabetic", "titleX": -55.5}},
        "color": {"field": "s", "type": "nominal",
                  "scale": {"domain": ["CMIF 1", "CMIF 2", "CMIF 3", "CMIF 4"], "range": ["#0000ff", "#008000", "#ff0000", "#00bfbf"]},
                  "legend": {"title": null, "orient": "bottom-right", "offset": 11, "symbolType": "stroke", "symbolSize": 1225, "symbolStrokeWidth": 2.5,
                             "labelFontSize": 23, "labelFont": "DejaVu Sans", "labelColor": "black", "labelOffset": 25, "symbolOffset": 11,
                             "padding": 6, "rowPadding": 3, "strokeColor": "black", "fillColor": "white", "cornerRadius": 0}}
      }
    },
    {
      "data": {"values": [{"v": 0.001}]},
      "mark": {"type": "point", "opacity": 0},
      "encoding": {
        "y": {"field": "v", "type": "quantitative", "scale": {"type": "log", "domain": [3e-6, 0.2], "nice": false},
              "axis": {"orient": "right", "title": null, "labels": false,
                       "values": [0.000004,0.000005,0.000006,0.000007,0.000008,0.000009,0.00001,0.00002,0.00003,0.00004,0.00005,0.00006,0.00007,0.00008,0.00009,0.0001,0.0002,0.0003,0.0004,0.0005,0.0006,0.0007,0.0008,0.0009,0.001,0.002,0.003,0.004,0.005,0.006,0.007,0.008,0.009,0.01,0.02,0.03,0.04,0.05,0.06,0.07,0.08,0.09,0.1],
                       "tickSize": {"condition": {"test": "datum.value == 0.1 || datum.value == 0.01 || datum.value == 0.001 || datum.value == 0.0001 || datum.value == 0.00001", "value": -5}, "value": -3}}}
      }
    },
    {
      "data": {"values": [{"v": 0.001}]},
      "mark": {"type": "point", "opacity": 0},
      "encoding": {
        "y": {"field": "v", "type": "quantitative", "scale": {"type": "log", "domain": [3e-6, 0.2], "nice": false},
              "axis": {"orient": "left", "title": null, "ticks": false,
                       "values": [0.00001, 0.0001, 0.001, 0.01, 0.1],
                       "labelExpr": "datum.value == 0.1 ? '-1' : datum.value == 0.01 ? '-2' : datum.value == 0.001 ? '-3' : datum.value == 0.0001 ? '-4' : '-5'",
                       "labelFontSize": 12, "labelPadding": 6, "labelOffset": -4}}
      }
    }
  ]
}
